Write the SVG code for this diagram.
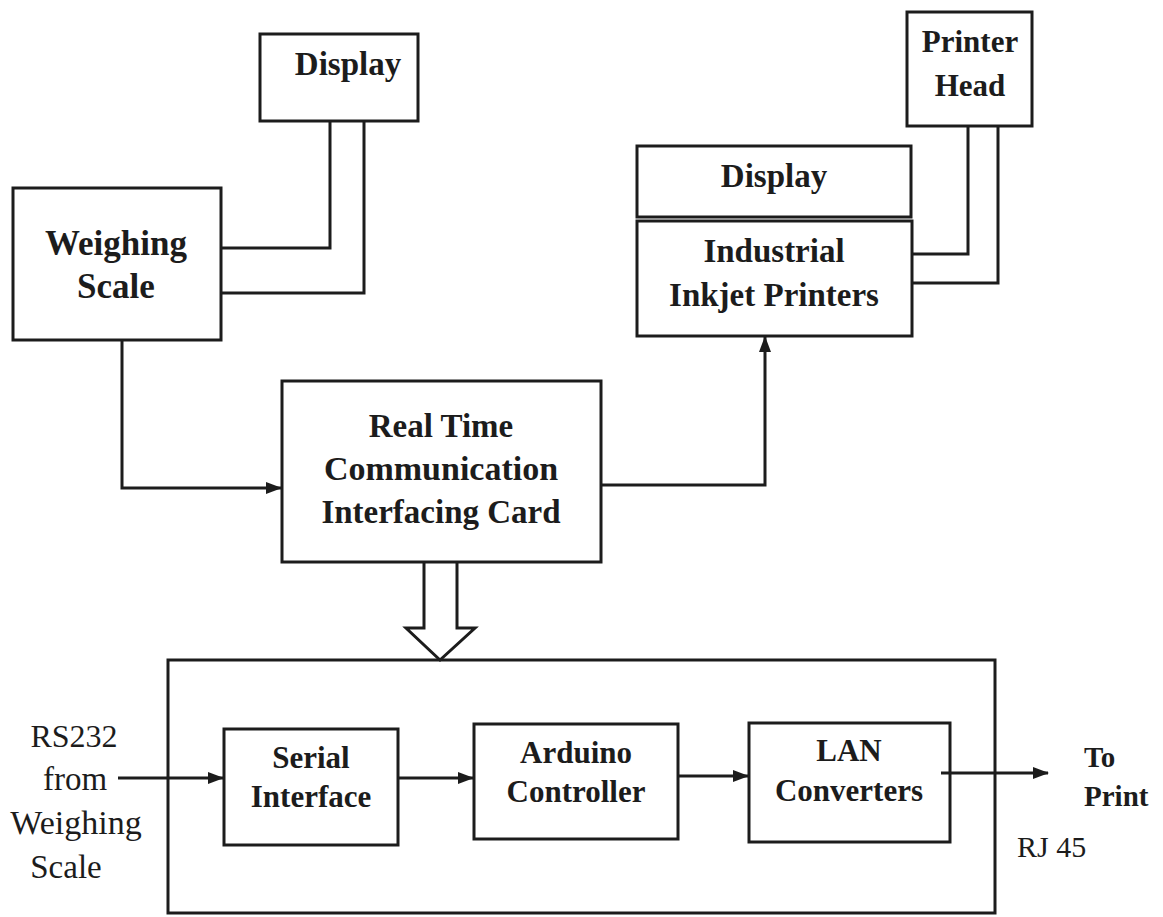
<svg xmlns="http://www.w3.org/2000/svg" width="1163" height="917" viewBox="0 0 1163 917">
<style>
.box{fill:#fff;stroke:#1c1c1c;stroke-width:3}
.ln{fill:none;stroke:#1c1c1c;stroke-width:3}
.b{font-family:"Liberation Serif","DejaVu Serif",serif;font-weight:bold;fill:#1c1c1c;text-anchor:middle}
.r{font-family:"Liberation Serif","DejaVu Serif",serif;fill:#1c1c1c;text-anchor:middle}
</style>
<defs>
<marker id="ah" viewBox="0 0 16 12" refX="15" refY="6" markerWidth="16" markerHeight="12" markerUnits="userSpaceOnUse" orient="auto">
<path d="M0,0 L16,6 L0,12 Z" fill="#1c1c1c"/>
</marker>
</defs>
<rect width="1163" height="917" fill="#fff"/>
<g id="display1"><rect class="box" x="260" y="34" width="158" height="87"/><text class="b" x="348" y="75" font-size="33">Display</text></g>
<g id="weighing-scale"><rect class="box" x="13" y="188" width="208" height="152"/><text class="b" x="116" y="255" font-size="35">Weighing</text><text class="b" x="116" y="298" font-size="35">Scale</text></g>
<g id="printer-head"><rect class="box" x="907" y="12" width="125" height="114"/><text class="b" x="970" y="52" font-size="31">Printer</text><text class="b" x="970" y="96" font-size="31">Head</text></g>
<g id="display2"><rect class="box" x="637" y="146" width="274" height="71"/><text class="b" x="774" y="187" font-size="33">Display</text></g>
<g id="inkjet"><rect class="box" x="637" y="221" width="275" height="115"/><text class="b" x="774" y="262" font-size="33">Industrial</text><text class="b" x="774" y="306" font-size="33">Inkjet Printers</text></g>
<g id="rtc-card"><rect class="box" x="282" y="381" width="319" height="181"/><text class="b" x="441" y="437" font-size="33">Real Time</text><text class="b" x="441" y="480" font-size="34">Communication</text><text class="b" x="441" y="523" font-size="33">Interfacing Card</text></g>
<g id="container"><rect class="box" x="168" y="660" width="827" height="253" style="fill:none"/></g>
<g id="serial"><rect class="box" x="224" y="729" width="174" height="116"/><text class="b" x="311" y="768" font-size="31">Serial</text><text class="b" x="311" y="807" font-size="31">Interface</text></g>
<g id="arduino"><rect class="box" x="474" y="724" width="204" height="115"/><text class="b" x="576" y="763" font-size="31">Arduino</text><text class="b" x="576" y="802" font-size="31">Controller</text></g>
<g id="lan"><rect class="box" x="749" y="723" width="201" height="119"/><text class="b" x="849" y="761" font-size="31">LAN</text><text class="b" x="849" y="801" font-size="31">Converters</text></g>
<g id="connectors">
<polyline class="ln" points="221,248 330,248 330,121"/>
<polyline class="ln" points="221,293 364,293 364,121"/>
<polyline class="ln" points="912,254 968,254 968,126"/>
<polyline class="ln" points="912,283 998,283 998,126"/>
<polyline class="ln" points="122,340 122,488 281,488" marker-end="url(#ah)"/>
<polyline class="ln" points="601,485 765,485 765,337" marker-end="url(#ah)"/>
<path class="ln" d="M424,562 L424,628 L406,628 L440,660 L475,628 L457,628 L457,562" stroke-linejoin="miter"/>
<line class="ln" x1="118" y1="778" x2="223" y2="778" marker-end="url(#ah)"/>
<line class="ln" x1="398" y1="778" x2="473" y2="778" marker-end="url(#ah)"/>
<line class="ln" x1="677" y1="776" x2="748" y2="776" marker-end="url(#ah)"/>
<line class="ln" x1="941" y1="773" x2="1048" y2="773" marker-end="url(#ah)"/>
</g>
<g id="labels">
<text class="r" x="74" y="747" font-size="32">RS232</text>
<text class="r" x="75" y="790" font-size="33">from</text>
<text class="r" x="76" y="834" font-size="34">Weighing</text>
<text class="r" x="66" y="878" font-size="33">Scale</text>
<text class="b" x="1084" y="767" font-size="29" style="text-anchor:start">To</text>
<text class="b" x="1084" y="806" font-size="29" style="text-anchor:start">Print</text>
<text class="r" x="1017" y="857" font-size="30" style="text-anchor:start">RJ 45</text>
</g>
</svg>
